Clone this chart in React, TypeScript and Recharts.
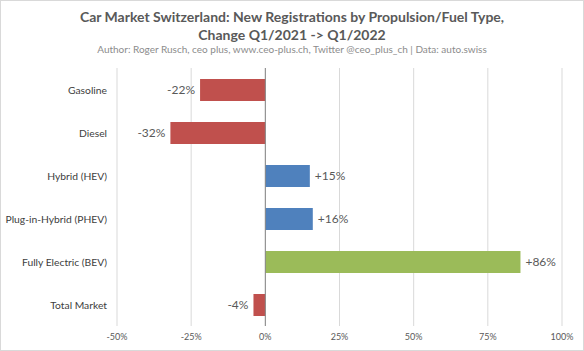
import { Bar, BarChart, CartesianGrid, Cell, LabelList, ReferenceLine, XAxis, YAxis } from "recharts";

const categories = ["Gasoline", "Diesel", "Hybrid (HEV)", "Plug-in-Hybrid (PHEV)", "Fully Electric (BEV)", "Total Market"];
const changes = [-22, -32, 15, 16, 86, -4];
const barColors = ["#C0504D", "#C0504D", "#4F81BD", "#4F81BD", "#9BBB59", "#C0504D"];
const xTicks = [-50, -25, 0, 25, 50, 75, 100];

const data = categories.map((name, i) => ({ name, value: changes[i] }));

const FONT = "Lato, 'Open Sans', sans-serif";

function DataLabel(props: any) {
  const { x, y, width, height, value } = props;
  const positive = value >= 0;
  const endX = x + width;
  const tx = positive ? Math.max(x, endX) + 5 : Math.min(x, endX) - 5;
  return (
    <text
      x={tx}
      y={y + height / 2}
      dy={4}
      textAnchor={positive ? "start" : "end"}
      fill="#595959"
      fontSize={12}
      fontFamily={FONT}
    >
      {positive ? `+${value}%` : `${value}%`}
    </text>
  );
}

function CategoryTick(props: any) {
  const { x, y, payload } = props;
  return (
    <text x={x} y={y} dy={4} textAnchor="end" fill="#404040" fontSize={10.3} fontFamily={FONT}>
      {payload.value}
    </text>
  );
}

export default function App() {
  return (
    <div
      style={{
        position: "absolute",
        left: 0,
        top: 0,
        width: 584,
        height: 351,
        background: "#fff",
        fontFamily: FONT,
      }}
    >
      <div
        style={{
          position: "absolute",
          inset: 0,
          border: "1px solid #d9d9d9",
          boxSizing: "border-box",
          pointerEvents: "none",
        }}
      />
      <div
        style={{
          position: "absolute",
          top: 8,
          width: 584,
          textAlign: "center",
          color: "#595959",
          fontWeight: 700,
          fontSize: 14,
          lineHeight: "18px",
        }}
      >
        Car Market Switzerland: New Registrations by Propulsion/Fuel Type,
        <br />
        Change Q1/2021 -&gt; Q1/2022
      </div>
      <div
        style={{
          position: "absolute",
          top: 43,
          width: 584,
          textAlign: "center",
          color: "#8c8c8c",
          fontSize: 10,
        }}
      >
        Author: Roger Rusch, ceo plus, www.ceo-plus.ch, Twitter @ceo_plus_ch | Data: auto.swiss
      </div>
      <BarChart
        width={584}
        height={351}
        data={data}
        layout="vertical"
        margin={{ top: 68, right: 22, bottom: 0, left: 0 }}
        barSize={22}
      >
        <CartesianGrid horizontal={false} stroke="#d9d9d9" />
        <XAxis
          type="number"
          domain={[-50, 100]}
          ticks={xTicks}
          tickFormatter={(v) => `${v}%`}
          axisLine={false}
          tickLine={false}
          height={25}
          tick={{ fill: "#595959", fontSize: 9, fontFamily: FONT }}
        />
        <YAxis
          type="category"
          dataKey="name"
          width={117}
          axisLine={false}
          tickLine={false}
          tickSize={0}
          tickMargin={10}
          tick={<CategoryTick />}
        />
        <Bar dataKey="value" isAnimationActive={false}>
          {data.map((_, i) => (
            <Cell key={i} fill={barColors[i]} />
          ))}
          <LabelList dataKey="value" content={DataLabel} />
        </Bar>
        <ReferenceLine x={0} stroke="#868686" />
      </BarChart>
    </div>
  );
}
